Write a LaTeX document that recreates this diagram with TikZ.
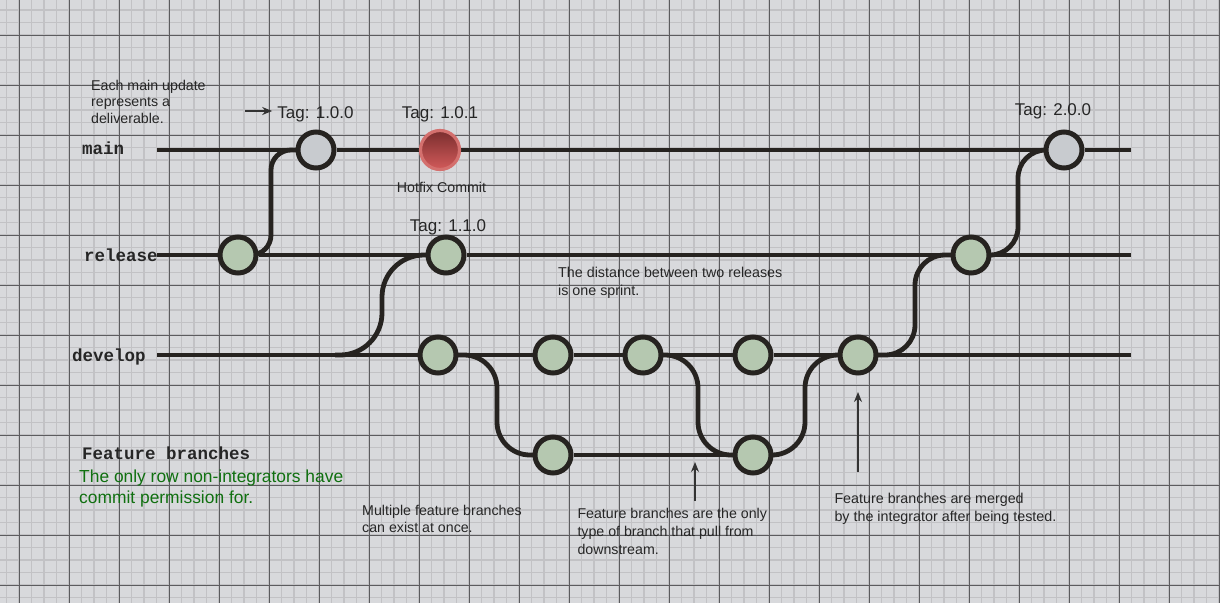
\documentclass[tikz,border=0pt]{standalone}
\usepackage{fontspec}
\setmainfont{Liberation Sans}
\newfontfamily\lbmono{Liberation Mono}
\usetikzlibrary{arrows.meta}
\definecolor{bgc}{HTML}{D8D9DC}
\definecolor{minorc}{HTML}{C2C2C5}
\definecolor{majorc}{HTML}{5C5C5F}
\definecolor{inkc}{HTML}{262320}
\definecolor{greenc}{HTML}{B5C8B0}
\definecolor{grayc}{HTML}{C8CBCF}
\definecolor{hotring}{HTML}{D4706E}
\definecolor{hottop}{HTML}{7A2E2E}
\definecolor{hotbot}{HTML}{D25A5A}
\definecolor{textc}{HTML}{262626}
\definecolor{arrowc}{HTML}{333333}
\definecolor{greentxt}{RGB}{16,112,16}
\newcommand\myTagFont{\fontsize{17}{20}\selectfont}
\newcommand\myLblFont{\lbmono\bfseries\fontsize{17.5}{20}\selectfont}
\pgfdeclarelayer{gridlayer}
\pgfdeclarelayer{edgelayer}
\pgfsetlayers{gridlayer,edgelayer,main}
\tikzset{
  branch/.style={line width=4.8pt, draw=inkc},
  commit/.style={circle, draw=inkc, line width=5pt, minimum size=36pt, inner sep=0pt, fill=greenc},
  tagcommit/.style={commit, fill=grayc},
  hotfix/.style={circle, draw=hotring, line width=3.2pt, minimum size=39pt, inner sep=0pt, top color=hottop, bottom color=hotbot},
  lbl/.style={font=\myLblFont, text=textc, anchor=base west, inner sep=0pt},
  tagtext/.style={font=\myTagFont, text=textc, anchor=base, inner sep=0pt},
  note/.style={text=textc, anchor=north west, align=left, inner sep=0pt},
  notearrow/.style={draw=arrowc, line width=1.5pt, -{Stealth[length=10pt,width=8pt]}},
  minorline/.style={draw=minorc, line width=1.6pt},
  majorline/.style={draw=majorc, line width=1pt},
}
\begin{document}
\begin{tikzpicture}[x=1pt,y=-1pt]
\useasboundingbox (0,0) rectangle (1220,603);
\begin{pgfonlayer}{gridlayer}
  \fill[bgc] (0,0) rectangle (1220,603);
  \foreach \k in {0,...,97} {\draw[minorline] (6.5+12.5*\k,0) -- (6.5+12.5*\k,603);}
  \foreach \k in {0,...,47} {\draw[minorline] (0,10+12.5*\k) -- (1220,10+12.5*\k);}
  \foreach \k in {0,...,24} {\draw[majorline] (19+50*\k,0) -- (19+50*\k,603);}
  \foreach \k in {0,...,11} {\draw[majorline] (0,35+50*\k) -- (1220,35+50*\k);}
\end{pgfonlayer}

% commits
\node[tagcommit] (m1) at (316,150) {};
\node[hotfix] (hot) at (440,150) {};
\node[tagcommit] (m2) at (1064,150) {};
\node[commit] (r1) at (238,255) {};
\node[commit] (r2) at (446,255) {};
\node[commit] (r3) at (971,255) {};
\node[commit] (d1) at (438,355) {};
\node[commit] (d2) at (553,355) {};
\node[commit] (d3) at (643,355) {};
\node[commit] (d4) at (753,355) {};
\node[commit] (d5) at (858,355) {};
\node[commit] (f1) at (553,455) {};
\node[commit] (f2) at (753,455) {};

\coordinate (mainL) at (157,150);
\coordinate (mainR) at (1131,150);
\coordinate (relL) at (157,255);
\coordinate (relR) at (1131,255);
\coordinate (devL) at (157,355);
\coordinate (devR) at (1131,355);
\coordinate (dsplit) at (335,355);

\begin{pgfonlayer}{edgelayer}
  \draw[branch] (mainL) -- (m1) -- (hot) -- (m2) -- (mainR);
  \draw[branch] (relL) -- (r1) -- (r2) -- (r3) -- (relR);
  \draw[branch] (devL) -- (d1) -- (d2) -- (d3) -- (d4) -- (d5) -- (devR);
  \draw[branch] (f1) -- (f2);
  \draw[branch, rounded corners=20pt] (r1.center) -- ++(33,0) |- (m1.center);
  \draw[branch, rounded corners=42pt] (dsplit) -- ++(47,0) |- (r2.center);
  \draw[branch, rounded corners=33pt] (d1.center) -- ++(59,0) |- (f1.center);
  \draw[branch, rounded corners=33pt] (d3.center) -- ++(55,0) |- (f2.center);
  \draw[branch, rounded corners=33pt] (f2.center) -- ++(52,0) |- (d5.center);
  \draw[branch, rounded corners=30pt] (d5.center) -- ++(57,0) |- (r3.center);
  \draw[branch, rounded corners=28pt] (r3.center) -- ++(47,0) |- (m2.center);
\end{pgfonlayer}

% branch labels
\node[lbl] (lmain) at (82,154) {main};
\node[lbl] (lrel) at (84,261) {release};
\node[lbl] (ldev) at (72,361) {develop};
\node[lbl] (lfeat) at (82,459.3) {Feature branches};
\node[note, text=greentxt, font=\fontsize{17.4}{21}\selectfont] (green) at (79,469.3) {The only row non-integrators have\\commit permission for.};

% tags
\node[tagtext] (t100) at (315.5,118.3) {Tag: 1.0.0};
\node[tagtext] (t101) at (440,118.3) {Tag: 1.0.1};
\node[tagtext] (t110) at (448,231) {Tag: 1.1.0};
\node[tagtext] (t200) at (1053,115) {Tag: 2.0.0};
\node[tagtext, font=\fontsize{14.2}{17}\selectfont] (hotlbl) at (441.5,192.7) {Hotfix Commit};

% notes
\node[note, font=\fontsize{14.2}{16.5}\selectfont] (n1) at (91,79.8) {Each main update\\represents a\\deliverable.};
\node[note, font=\fontsize{14.3}{18}\selectfont] (n2) at (558,267.1) {The distance between two releases\\is one sprint.};
\node[note, font=\fontsize{14.2}{17.3}\selectfont] (n3) at (362,504.8) {Multiple feature branches\\can exist at once.};
\node[note, font=\fontsize{14.2}{17.9}\selectfont] (n4) at (577.3,508.1) {Feature branches are the only\\type of branch that pull from\\downstream.};
\node[note, font=\fontsize{14.3}{17.4}\selectfont] (n5) at (834.3,493.1) {Feature branches are merged\\by the integrator after being tested.};

% arrows
\coordinate (a1s) at (245,111);
\draw[notearrow, shorten >=5pt] (a1s) -- (a1s -| t100.west);
\coordinate (a2t) at (695,462);
\draw[notearrow, shorten <=7pt] (a2t |- n4.north) -- (a2t);
\coordinate (a3s) at (858,472);
\draw[notearrow, shorten >=16.5pt] (a3s) -- (d5.south);
\end{tikzpicture}
\end{document}
